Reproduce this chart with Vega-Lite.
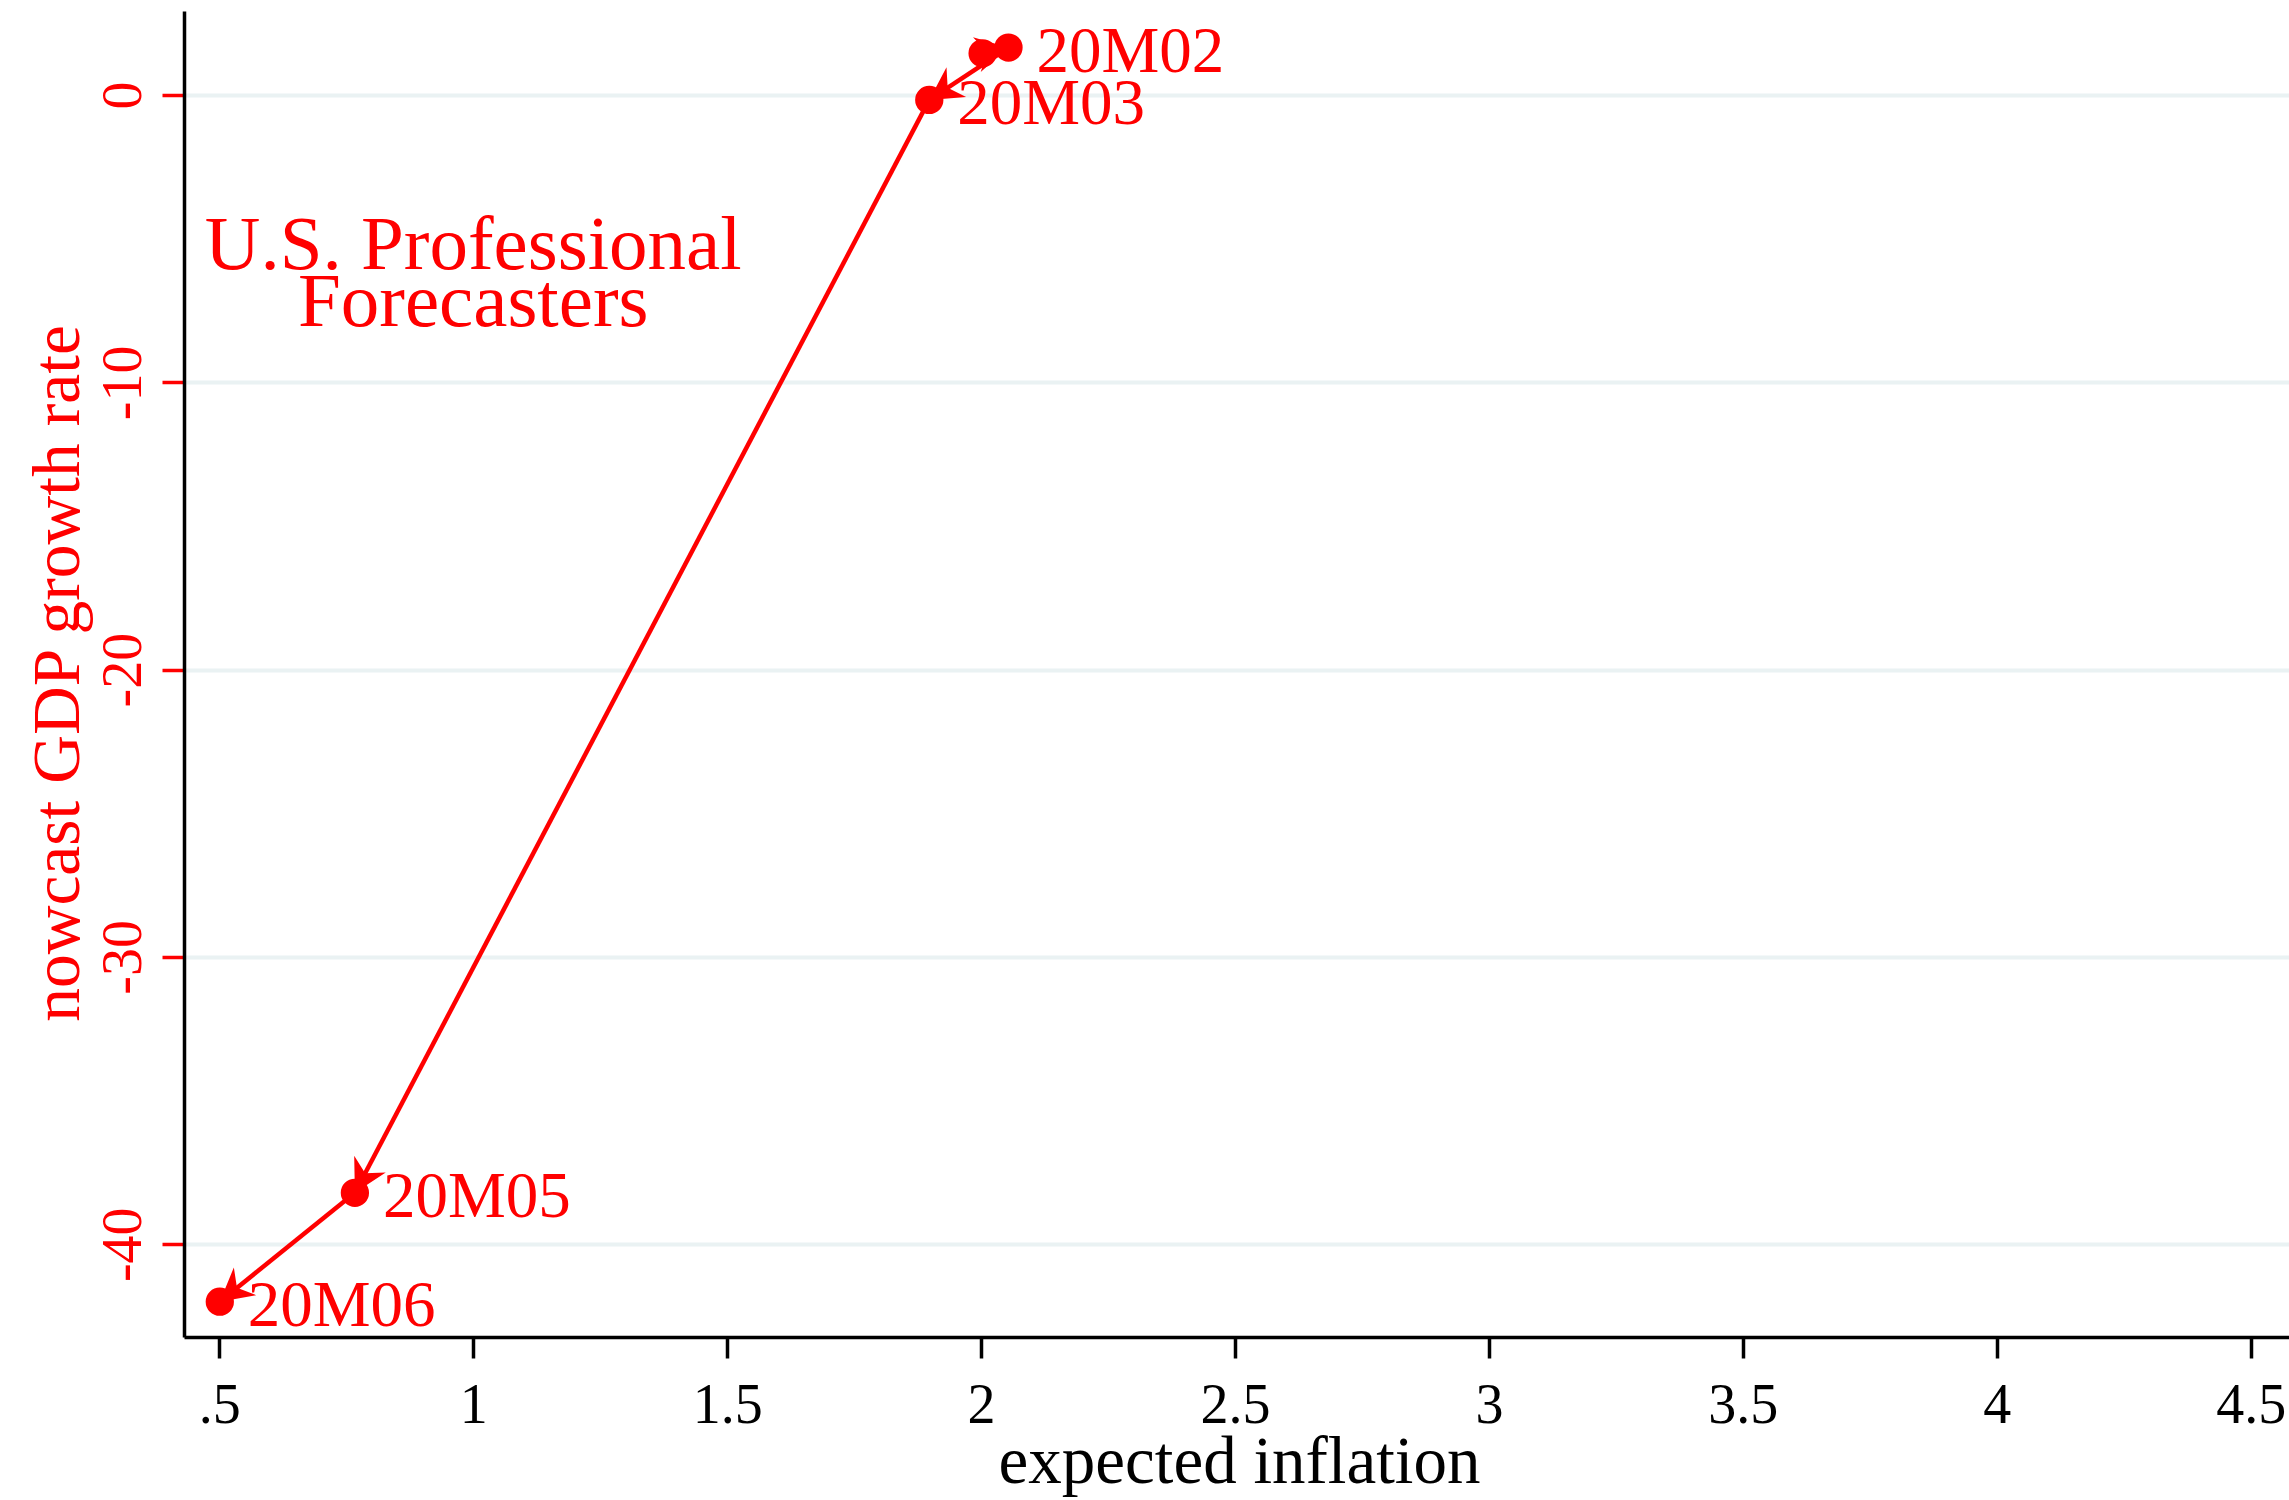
{
  "$schema": "https://vega.github.io/schema/vega-lite/v6.json",
  "width": 2105,
  "height": 1326,
  "autosize": {"type": "none"},
  "padding": {"left": 184, "top": 11, "right": 0, "bottom": 163},
  "background": "white",
  "config": {"view": {"stroke": null}, "font": "Liberation Serif"},
  "datasets": {
    "note": [{"ax": 1, "ay": -6.06, "note": "U.S. Professional|Forecasters"}]
  },
  "data": {
    "values": [
      {"order": 1, "month": "20M01", "infl": 2.003, "gdp": 1.45},
      {"order": 2, "month": "20M02", "infl": 2.054, "gdp": 1.65},
      {"order": 3, "month": "20M03", "infl": 1.898, "gdp": -0.17},
      {"order": 4, "month": "20M05", "infl": 0.767, "gdp": -38.21},
      {"order": 5, "month": "20M06", "infl": 0.501, "gdp": -42.0}
    ]
  },
  "encoding": {
    "x": {
      "field": "infl",
      "type": "quantitative",
      "scale": {"domain": [0.4305, 4.5754], "nice": false, "zero": false},
      "axis": {
        "values": [0.5, 1, 1.5, 2, 2.5, 3, 3.5, 4, 4.5],
        "labelExpr": "replace(toString(datum.value), '0.', '.')",
        "title": "expected inflation",
        "grid": false,
        "domainColor": "black",
        "domainWidth": 3.5,
        "tickColor": "black",
        "tickSize": 21,
        "tickWidth": 3.5,
        "labelFont": "Liberation Serif",
        "labelFontSize": 56,
        "labelColor": "black",
        "labelBaseline": "alphabetic",
        "labelPadding": 64,
        "labelFlush": false,
        "labelOverlap": false,
        "titleFont": "Liberation Serif",
        "titleFontSize": 67,
        "titleFontWeight": "normal",
        "titleColor": "black",
        "titleBaseline": "alphabetic",
        "titleAlign": "center",
        "titleX": 1055,
        "titleY": 145
      }
    },
    "y": {
      "field": "gdp",
      "type": "quantitative",
      "scale": {"domain": [-43.23, 2.924], "nice": false, "zero": false},
      "axis": {
        "values": [-40, -30, -20, -10, 0],
        "labelExpr": "toString(datum.value)",
        "title": "nowcast GDP growth rate",
        "grid": true,
        "gridColor": "#EAF2F3",
        "gridWidth": 4,
        "domainColor": "black",
        "domainWidth": 3.5,
        "tickColor": "#FF0000",
        "tickSize": 22,
        "tickWidth": 3.5,
        "labelFont": "Liberation Serif",
        "labelFontSize": 56,
        "labelColor": "#FF0000",
        "labelAngle": 270,
        "labelAlign": "center",
        "labelBaseline": "alphabetic",
        "labelPadding": 22,
        "labelFlush": false,
        "labelOverlap": false,
        "titleFont": "Liberation Serif",
        "titleFontSize": 67.5,
        "titleFontWeight": "normal",
        "titleColor": "#FF0000",
        "titleAngle": 270,
        "titleAlign": "center",
        "titleBaseline": "middle",
        "titleX": -126,
        "titleY": 662
      }
    }
  },
  "layer": [
    {
      "transform": [
        {"window": [
          {"op": "lead", "param": 1, "field": "infl", "as": "infl_next"},
          {"op": "lead", "param": 1, "field": "gdp", "as": "gdp_next"}
        ], "sort": [{"field": "order"}]},
        {"filter": "isValid(datum.infl_next)"}
      ],
      "mark": {"type": "rule", "color": "#FF0000", "strokeWidth": 4.5},
      "encoding": {
        "x2": {"field": "infl_next"},
        "y2": {"field": "gdp_next"}
      }
    },
    {
      "transform": [
        {"window": [
          {"op": "lead", "param": 1, "field": "infl", "as": "infl_next"},
          {"op": "lead", "param": 1, "field": "gdp", "as": "gdp_next"}
        ], "sort": [{"field": "order"}]},
        {"filter": "isValid(datum.infl_next)"},
        {"calculate": "atan2((datum.infl_next - datum.infl) * 507.85, (datum.gdp_next - datum.gdp) * 28.73) * 180 / PI", "as": "ang"}
      ],
      "mark": {"type": "point", "shape": "M0,0 L0.55,1 L0,0.68 L-0.55,1 Z", "filled": true, "color": "#FF0000", "opacity": 1, "size": 4200, "strokeWidth": 0},
      "encoding": {
        "x": {"field": "infl_next", "type": "quantitative"},
        "y": {"field": "gdp_next", "type": "quantitative"},
        "angle": {"field": "ang", "type": "quantitative", "scale": null}
      }
    },
    {
      "mark": {"type": "point", "shape": "circle", "filled": true, "color": "#FF0000", "opacity": 1, "size": 800}
    },
    {
      "transform": [{"filter": "datum.month != '20M01'"}],
      "mark": {"type": "text", "font": "Liberation Serif", "fontSize": 65, "color": "#FF0000", "align": "left", "baseline": "middle", "dx": 28, "dy": 4},
      "encoding": {"text": {"field": "month", "type": "nominal"}}
    },
    {
      "data": {"name": "note"},
      "mark": {"type": "text", "lineBreak": "|", "font": "Liberation Serif", "fontSize": 77, "lineHeight": 57, "color": "#FF0000", "align": "center", "baseline": "alphabetic"},
      "encoding": {
        "x": {"field": "ax", "type": "quantitative"},
        "y": {"field": "ay", "type": "quantitative"},
        "text": {"field": "note", "type": "nominal"}
      }
    }
  ]
}
